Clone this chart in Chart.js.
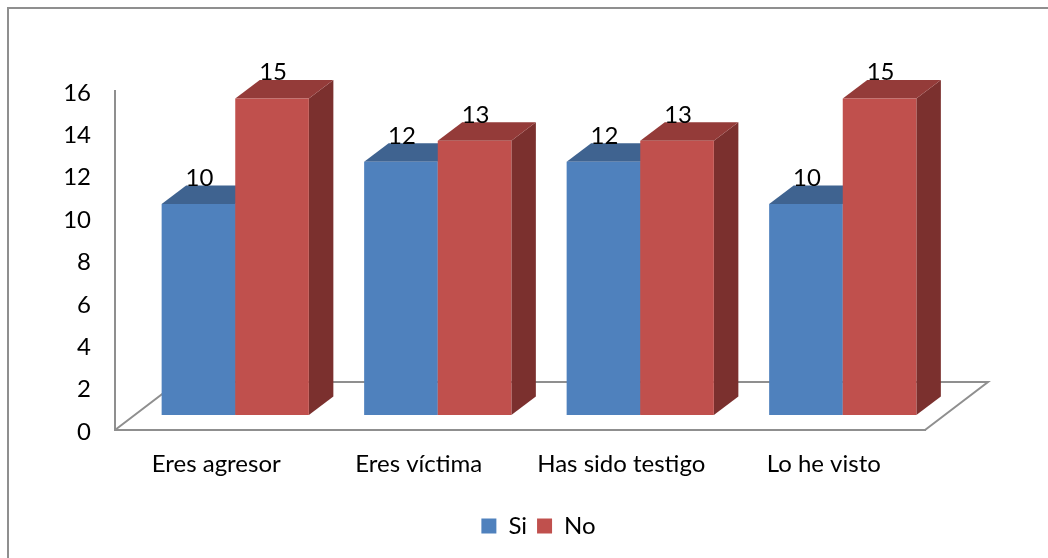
<!DOCTYPE html>
<html>
<head>
<meta charset="utf-8">
<script src="https://cdn.jsdelivr.net/npm/chart.js@4"></script>
<style>
    html, body { margin: 0; padding: 0; background: #fff; overflow: hidden; }
    #frame { position: absolute; left: 7px; top: 7px; right: 0; bottom: 0; border-left: 2px solid #8f8f8f; border-top: 2px solid #8f8f8f; }
    #chart { position: absolute; left: 0; top: 0; }
</style>
</head>
<body>
<div id="frame"></div>
<canvas id="chart" width="1048" height="558"></canvas>
<script>
const categories = ['Eres agresor', 'Eres víctima', 'Has sido testigo', 'Lo he visto'];
const siValues = [10, 12, 12, 10];
const noValues = [15, 13, 13, 15];
const yTicks = [0, 2, 4, 6, 8, 10, 12, 14, 16];

const FONT = 'Lato, Carlito, Calibri, sans-serif';
const FONT_SIZE = 24;
const AXIS_COLOR = '#8f8f8f';

// Fake 3D: depth of the boxes and of the floor, in pixels
const DEPTH_X = 24.5;
const DEPTH_Y = -18.5;
const FLOOR_X = 63;
const FLOOR_Y = -48;
const BAR_SHIFT = 19;
const LABEL_LIFT = 26;
const LEGEND_SHIFT = 46;

const FACES = {
    Si: { top: '#3f6390', side: '#3a5a82' },
    No: { top: '#943b39', side: '#7b302e' },
};

function poly(ctx, pts, fill) {
    ctx.beginPath();
    pts.forEach((p, i) => i ? ctx.lineTo(p[0], p[1]) : ctx.moveTo(p[0], p[1]));
    ctx.closePath();
    ctx.fillStyle = fill;
    ctx.fill();
}

const box3d = {
    id: 'box3d',
    afterLayout(chart) {
        chart.legend.left += LEGEND_SHIFT;
        chart.legend.right += LEGEND_SHIFT;
    },
    // Chart.js paints the first dataset on top, here Si has to go under No
    beforeDatasetDraw() {
        return false;
    },
    beforeDatasetsDraw(chart) {
        const { ctx, chartArea: a } = chart;
        const y0 = chart.scales.y.getPixelForValue(0);
        ctx.save();
        ctx.strokeStyle = AXIS_COLOR;
        ctx.lineWidth = 2;
        ctx.beginPath();
        ctx.moveTo(a.left, y0);
        ctx.lineTo(a.left + FLOOR_X, y0 + FLOOR_Y);
        ctx.lineTo(a.right + FLOOR_X, y0 + FLOOR_Y);
        ctx.lineTo(a.right, y0);
        ctx.stroke();

        ctx.translate(BAR_SHIFT, 0);
        chart.data.datasets.forEach((ds, i) => {
            const faces = FACES[ds.label];
            chart.getDatasetMeta(i).data.forEach(bar => {
                const l = bar.x - bar.width / 2;
                const r = bar.x + bar.width / 2;
                poly(ctx, [[r, bar.y], [r + DEPTH_X, bar.y + DEPTH_Y], [r + DEPTH_X, bar.base + DEPTH_Y], [r, bar.base]], faces.side);
                poly(ctx, [[l, bar.y], [l + DEPTH_X, bar.y + DEPTH_Y], [r + DEPTH_X, bar.y + DEPTH_Y], [r, bar.y]], faces.top);
                bar.draw(ctx);
            });
        });
        ctx.restore();
    },
    // Value labels go last so the next box can't cover them
    afterDatasetsDraw(chart) {
        const { ctx } = chart;
        ctx.save();
        ctx.font = FONT_SIZE + 'px ' + FONT;
        ctx.fillStyle = '#000';
        ctx.textAlign = 'center';
        ctx.textBaseline = 'middle';
        chart.data.datasets.forEach((ds, i) => {
            chart.getDatasetMeta(i).data.forEach((bar, j) => {
                ctx.fillText(ds.data[j], bar.x + BAR_SHIFT + 1, bar.y - LABEL_LIFT);
            });
        });
        ctx.restore();
    },
};

new Chart(document.getElementById('chart').getContext('2d'), {
    type: 'bar',
    plugins: [box3d],
    data: {
        labels: categories,
        datasets: [
            { label: 'Si', data: siValues, backgroundColor: '#4f81bd', yAxisID: 'yBars' },
            { label: 'No', data: noValues, backgroundColor: '#c0504d', yAxisID: 'yBars' },
        ]
    },
    options: {
        responsive: false,
        animation: false,
        layout: { padding: { left: 60, right: 123, top: 91, bottom: 10 } },
        datasets: { bar: { categoryPercentage: 0.727, barPercentage: 1 } },
        plugins: {
            tooltip: { enabled: false },
            legend: {
                position: 'bottom',
                labels: {
                    color: '#000',
                    font: { family: FONT, size: FONT_SIZE },
                    boxWidth: 15,
                    boxHeight: 15,
                    padding: 10,
                }
            }
        },
        scales: {
            x: {
                grid: { display: false },
                border: { display: true, color: AXIS_COLOR, width: 2 },
                ticks: { color: '#000', font: { family: FONT, size: FONT_SIZE }, padding: 12, maxRotation: 0 },
                afterFit(scale) { scale.height = 74; },
            },
            y: {
                min: 0,
                max: 16,
                grid: { display: false },
                border: { display: true, color: AXIS_COLOR, width: 2 },
                afterBuildTicks(scale) { scale.ticks = yTicks.map(value => ({ value })); },
                ticks: { color: '#000', font: { family: FONT, size: FONT_SIZE }, padding: 16, labelOffset: 2 },
                afterFit(scale) { scale.width = 55; },
            },
            // Hidden axis for the boxes: their base sits in front of the wall's zero
            yBars: {
                display: false,
                min: -0.713,
                max: 15.36,
            },
        }
    }
});
</script>
</body>
</html>
